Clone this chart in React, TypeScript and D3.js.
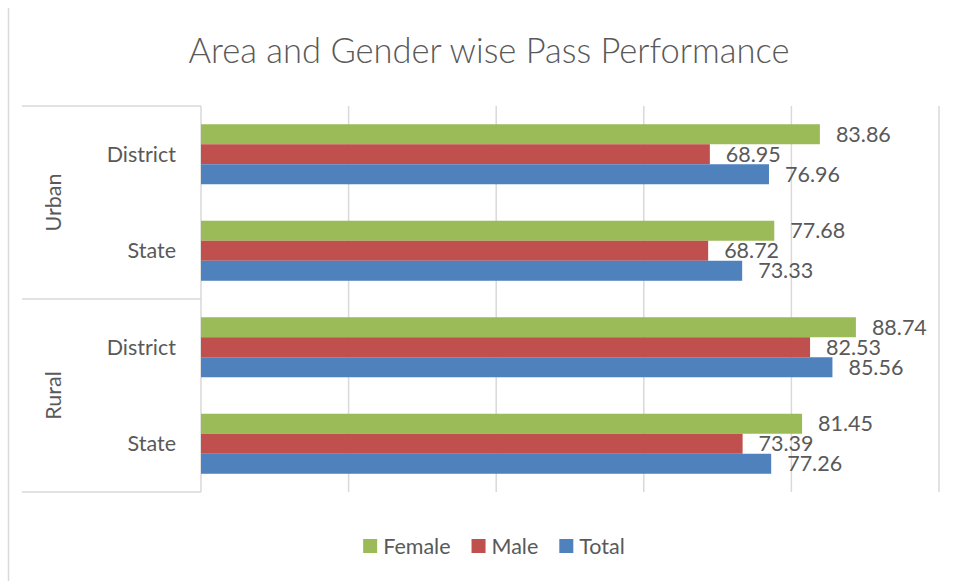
import React, { useEffect, useRef } from 'react';
import * as d3 from 'd3';

// Rows from top to bottom
const groups = ['Urban', 'Rural'];
const categories = ['District', 'State'];
const seriesNames = ['Female', 'Male', 'Total'];
const seriesColors = ['#9BBB59', '#C0504D', '#4F81BD'];

const female = [83.86, 77.68, 88.74, 81.45];
const male = [68.95, 68.72, 82.53, 73.39];
const total = [76.96, 73.33, 85.56, 77.26];

const xTicks = [0, 20, 40, 60, 80, 100];

const W = 957;
const H = 581;
const FONT = 'Lato, "Noto Sans", sans-serif';
const TEXT = '#595959';
const GRID = '#D9D9D9';

const App = () => {
  const ref = useRef<SVGSVGElement>(null);

  useEffect(() => {
    const svg = d3.select(ref.current);
    svg.selectAll('*').remove();

    const plot = { left: 201, right: 939, top: 106, bottom: 492 };

    // rows: group x category
    const rows = groups.flatMap(g => categories.map(c => `${g}|${c}`));
    const values = [female, male, total];

    const x = d3.scaleLinear().domain([0, 100]).range([plot.left, plot.right]);
    const y = d3.scaleBand<string>()
      .domain(rows)
      .range([plot.top, plot.bottom])
      .paddingInner(0.378)
      .paddingOuter(0.189);
    const ySeries = d3.scaleBand<string>()
      .domain(seriesNames)
      .range([0, y.bandwidth()]);

    // outer border (left edge visible)
    svg.append('line')
      .attr('x1', 8.5).attr('x2', 8.5)
      .attr('y1', 8).attr('y2', H)
      .attr('stroke', GRID).attr('stroke-width', 1.5);

    // title
    svg.append('text')
      .attr('x', 489).attr('y', 63)
      .attr('text-anchor', 'middle')
      .attr('font-family', FONT)
      .attr('font-size', 34.5)
      .attr('font-weight', 300)
      .attr('fill', TEXT)
      .text('Area and Gender wise Pass Performance');

    // vertical gridlines
    svg.append('g').selectAll('line')
      .data(xTicks)
      .enter()
      .append('line')
        .attr('x1', d => x(d)).attr('x2', d => x(d))
        .attr('y1', plot.top).attr('y2', plot.bottom)
        .attr('stroke', GRID).attr('stroke-width', 1.5);

    // group separators on the category axis
    const groupStep = (plot.bottom - plot.top) / groups.length;
    const sepYs = d3.range(groups.length + 1).map(i => plot.top + i * groupStep);
    svg.append('g').selectAll('line')
      .data(sepYs)
      .enter()
      .append('line')
        .attr('x1', 22).attr('x2', plot.left)
        .attr('y1', d => d).attr('y2', d => d)
        .attr('stroke', GRID).attr('stroke-width', 1.5);

    // bars
    seriesNames.forEach((name, si) => {
      const g = svg.append('g');
      g.selectAll('rect')
        .data(values[si])
        .enter()
        .append('rect')
          .attr('x', x(0))
          .attr('y', (d, i) => (y(rows[i]) as number) + (ySeries(name) as number))
          .attr('width', d => x(d) - x(0))
          .attr('height', ySeries.bandwidth())
          .attr('fill', seriesColors[si]);

      g.selectAll('text')
        .data(values[si])
        .enter()
        .append('text')
          .attr('x', d => x(d) + 16)
          .attr('y', (d, i) => (y(rows[i]) as number) + (ySeries(name) as number) + ySeries.bandwidth() / 2)
          .attr('dy', '0.36em')
          .attr('font-family', FONT)
          .attr('font-size', 21.5)
          .attr('fill', TEXT)
          .text(d => d.toFixed(2));
    });

    // category labels
    svg.append('g').selectAll('text')
      .data(rows)
      .enter()
      .append('text')
        .attr('x', 176)
        .attr('y', d => (y(d) as number) + y.bandwidth() / 2)
        .attr('dy', '0.36em')
        .attr('text-anchor', 'end')
        .attr('font-family', FONT)
        .attr('font-size', 21.5)
        .attr('fill', TEXT)
        .text(d => d.split('|')[1]);

    // group labels, rotated
    svg.append('g').selectAll('text')
      .data(groups)
      .enter()
      .append('text')
        .attr('transform', (d, i) => `translate(61, ${plot.top + (i + 0.5) * groupStep}) rotate(-90)`)
        .attr('text-anchor', 'middle')
        .attr('font-family', FONT)
        .attr('font-size', 21.5)
        .attr('fill', TEXT)
        .text(d => d);

    // legend
    const legend = svg.append('g');
    let cursor = 0;
    seriesNames.forEach((name, i) => {
      const item = legend.append('g').attr('transform', `translate(${cursor}, 0)`);
      item.append('rect')
        .attr('x', 0).attr('y', -7)
        .attr('width', 14).attr('height', 14)
        .attr('fill', seriesColors[i]);
      const t = item.append('text')
        .attr('x', 20).attr('y', 0)
        .attr('dy', '0.36em')
        .attr('font-family', FONT)
        .attr('font-size', 21.5)
        .attr('fill', TEXT)
        .text(name);
      const tw = (t.node() as SVGTextElement).getComputedTextLength();
      cursor += 20 + tw + 21;
    });
    const legendWidth = cursor - 21;
    legend.attr('transform', `translate(${494 - legendWidth / 2}, 546)`);
  }, []);

  return (
    <svg
      ref={ref}
      width={W}
      height={H}
      style={{ position: 'absolute', left: 0, top: 0, background: '#fff' }}
    />
  );
};

export default App;
